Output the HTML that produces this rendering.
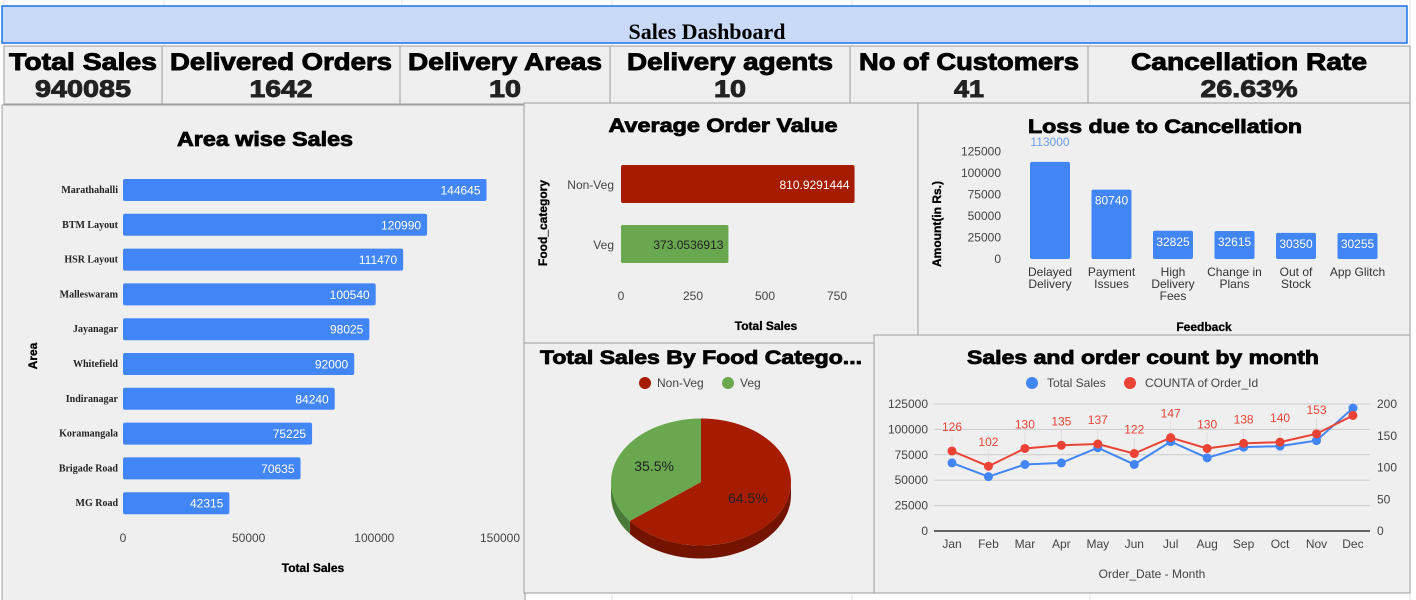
<!DOCTYPE html>
<html><head><meta charset="utf-8"><style>
html,body{margin:0;padding:0;background:#fff;width:1416px;height:600px;overflow:hidden}
svg{display:block;font-family:"Liberation Sans",Arial,sans-serif}
</style></head><body>
<svg id="s" width="1416" height="600" viewBox="0 0 1416 600">
<g id="grid"></g>
<rect x="2" y="6" width="1405" height="37" fill="#c9daf8" stroke="#1a73e8" stroke-width="1.5"/>
<text x="707" y="39" text-anchor="middle" font-family="Liberation Serif,serif" font-weight="bold" font-size="22">Sales Dashboard</text>
<g id="kpis"></g>
<g id="panels"></g>
</svg>
<script>
const NS='http://www.w3.org/2000/svg';
const svg=document.getElementById('s');
function el(tag,attrs,parent,txt){const e=document.createElementNS(NS,tag);for(const k in attrs)e.setAttribute(k,attrs[k]);if(txt!==undefined)e.textContent=txt;(parent||svg).appendChild(e);return e;}

// KPI data
const kpiLabels=['Total Sales','Delivered Orders','Delivery Areas','Delivery agents','No of Customers','Cancellation Rate'];
const kpiValues=['940085','1642','10','10','41','26.63%'];
const kpiLabelW=[148,222,194,206,220,236];
const kpiValueW=[96,63,32,32,30,97];
// area sales
const areaNames=['Marathahalli','BTM Layout','HSR Layout','Malleswaram','Jayanagar','Whitefield','Indiranagar','Koramangala','Brigade Road','MG Road'];
const areaSales=[144645,120990,111470,100540,98025,92000,84240,75225,70635,42315];
const areaTicks=[0,50000,100000,150000];
// AOV
const aovCats=['Non-Veg','Veg'];
const aovValues=[810.9291444,373.0536913];
const aovTicks=[0,250,500,750];
// Loss
const lossCats=[['Delayed','Delivery'],['Payment','Issues'],['High','Delivery','Fees'],['Change in','Plans'],['Out of','Stock'],['App Glitch']];
const lossValues=[113000,80740,32825,32615,30350,30255];
const lossTicks=[0,25000,50000,75000,100000,125000];
// Pie
const pieCats=['Non-Veg','Veg'];
const pieValues=[64.5,35.5];
// Monthly
const months=['Jan','Feb','Mar','Apr','May','Jun','Jul','Aug','Sep','Oct','Nov','Dec'];
const monthSales=[67000,53500,65500,67000,82000,65500,88000,72000,82500,83500,89000,121000];
const monthCounts=[126,102,130,135,137,122,147,130,138,140,153,182];
const leftTicks=[0,25000,50000,75000,100000,125000];
const rightTicks=[0,50,100,150,200];

const grid=document.getElementById('grid');
[4,164,402,612,852,1090,1410].forEach(x=>{const l=el('line',{x1:x,y1:0,x2:x,y2:600,stroke:'#e2e2e2'},grid);});

const kx=[4,162,400,610,850,1088,1410];
const kg=document.getElementById('kpis');
kpiLabels.forEach((lab,i)=>{
  const last=i===5;
  const r=el('rect',{x:kx[i],y:46,width:kx[i+1]-kx[i],height:last?61:58,fill:'#efefef',stroke:'#9e9e9e'},kg);
  
  const cx=(kx[i]+kx[i+1])/2;
  const t=el('text',{x:cx,y:70,'text-anchor':'middle','font-weight':'bold','font-size':24,fill:'#000',stroke:'#000','stroke-width':0.9,textLength:kpiLabelW[i],lengthAdjust:'spacingAndGlyphs'},kg,lab);
  
  const v=el('text',{x:cx,y:97,'text-anchor':'middle','font-weight':'bold','font-size':24,fill:'#222',stroke:'#222','stroke-width':0.9,textLength:kpiValueW[i],lengthAdjust:'spacingAndGlyphs'},kg,kpiValues[i]);
  
});

const P=document.getElementById('panels');
function panel(x,y,w,h,name){const g=el('g',{},P);
 const r=el('rect',{x:x,y:y,width:w,height:h,fill:'#efefef',stroke:'#9e9e9e'},g);return g;}
function txt(g,x,y,s,attrs,name){const a=Object.assign({x:x,y:y,'font-size':12,fill:'#444'},attrs||{});const t=el('text',a,g,s);return t;}
function title(g,x,y,s,w,fs){return txt(g,x,y,s,{'text-anchor':'middle','font-weight':'bold','font-size':fs,fill:'#000',stroke:'#000','stroke-width':0.8,textLength:w,lengthAdjust:'spacingAndGlyphs'},'chart-title');}

// Area wise sales
{
 const g=panel(2,105,523,500,'area-sales-chart');
 title(g,265,146,'Area wise Sales',176,20);
 const x0=123,x1=500,max=150000;const sx=v=>x0+(x1-x0)*v/max;
 const y0=179,step=34.8,bh=22;
 areaTicks.forEach(t=>txt(g,sx(t),542,String(t),{'text-anchor':'middle'},'x-tick'));
 areaNames.forEach((n,i)=>{
  const y=y0+i*step;
  const b=el('rect',{x:x0,y:y,width:sx(areaSales[i])-x0,height:bh,rx:2,fill:'#4285f4'},g);
  txt(g,sx(areaSales[i])-6,y+15.5,String(areaSales[i]),{'text-anchor':'end',fill:'#fff','font-size':12},'bar-value');
  txt(g,118,y+14,n,{'text-anchor':'end','font-family':'Liberation Serif,serif','font-weight':'bold','font-size':10,fill:'#222'},'y-tick');
 });
 txt(g,313,572,'Total Sales',{'text-anchor':'middle','font-weight':'bold','font-size':12,fill:'#000',stroke:'#000','stroke-width':0.3},'x-axis-title');
 txt(g,0,0,'Area',{'text-anchor':'middle','font-weight':'bold','font-size':12,fill:'#000',stroke:'#000','stroke-width':0.3,transform:'translate(37,356) rotate(-90)'},'y-axis-title');
}
// AOV
{
 const g=panel(524,103,394,240,'average-order-value-chart');
 title(g,723,132,'Average Order Value',229,19);
 const x0=621,x1=837,max=750;const sx=v=>x0+(x1-x0)*v/max;
 const cols=['#a61c00','#6aa84f'];const ys=[165,225];
 aovCats.forEach((c,i)=>{
  const b=el('rect',{x:x0,y:ys[i],width:sx(aovValues[i])-x0,height:38,rx:2,fill:cols[i]},g);
  txt(g,sx(aovValues[i])-5,ys[i]+24,aovValues[i].toFixed(7),{'text-anchor':'end',fill:i==0?'#fff':'#222','font-size':12},'bar-value');
  txt(g,614,ys[i]+24,c,{'text-anchor':'end'},'y-tick');
 });
 aovTicks.forEach(t=>txt(g,sx(t),300,String(t),{'text-anchor':'middle'},'x-tick'));
 txt(g,766,330,'Total Sales',{'text-anchor':'middle','font-weight':'bold','font-size':12,fill:'#000',stroke:'#000','stroke-width':0.3},'x-axis-title');
 txt(g,0,0,'Food_category',{'text-anchor':'middle','font-weight':'bold','font-size':12,fill:'#000',stroke:'#000','stroke-width':0.3,transform:'translate(547,223) rotate(-90)'},'y-axis-title');
}
// Loss
{
 const g=panel(918,103,492,232,'loss-cancellation-chart');
 title(g,1165,133,'Loss due to Cancellation',274,19);
 const yb=259,yt=151.5,max=125000;const sy=v=>yb-(yb-yt)*v/max;
 lossTicks.forEach(t=>txt(g,1001,sy(t)+4,String(t),{'text-anchor':'end'},'y-tick'));
 const cx0=1050,step=61.5,bw=40;
 lossCats.forEach((c,i)=>{
  const cx=cx0+i*step;
  const b=el('rect',{x:cx-bw/2,y:sy(lossValues[i]),width:bw,height:yb-sy(lossValues[i]),rx:2,fill:'#4285f4'},g);
  if(i==0) txt(g,cx,146,String(lossValues[i]),{'text-anchor':'middle',fill:'#6d9eeb'},'bar-value');
  else txt(g,cx,sy(lossValues[i])+15,String(lossValues[i]),{'text-anchor':'middle',fill:'#fff'},'bar-value');
  c.forEach((l,j)=>txt(g,cx,276+j*12,l,{'text-anchor':'middle','font-size':12,fill:'#333'},'x-tick'));
 });
 txt(g,1204,331,'Feedback',{'text-anchor':'middle','font-weight':'bold','font-size':12,fill:'#000',stroke:'#000','stroke-width':0.3},'x-axis-title');
 txt(g,0,0,'Amount(in Rs.)',{'text-anchor':'middle','font-weight':'bold','font-size':12,fill:'#000',stroke:'#000','stroke-width':0.3,transform:'translate(941,224) rotate(-90)'},'y-axis-title');
}
// Pie
{
 const g=panel(524,343,350,250,'food-category-pie-chart');
 title(g,701,364,'Total Sales By Food Catego...',322,19);
 const lc=['#a61c00','#6aa84f'],dc=['#741300','#4a7a37'];
 [[645,pieCats[0]],[728,pieCats[1]]].forEach(([x,n],i)=>{const c=el('circle',{cx:x,cy:383,r:6,fill:lc[i]},g);txt(g,x+12,387,n,{},'legend-entry');});
 const cx=701,cy=482,rx=90,ry=63.5,d=13;
 const tot=pieValues.reduce((a,b)=>a+b,0);
 const pt=(a,dy)=>[cx+rx*Math.sin(a),cy-ry*Math.cos(a)+(dy||0)];
 let a0=0;const angs=pieValues.map(v=>{const s=a0;a0+=v/tot*2*Math.PI;return [s,a0];});
 angs.forEach(([s,e],i)=>{
  const lo=Math.max(s,Math.PI/2),hi=Math.min(e,3*Math.PI/2);
  if(hi>lo){const p1=pt(lo),p2=pt(hi),p3=pt(hi,d),p4=pt(lo,d);
   const w=el('path',{d:`M${p1} A${rx},${ry} 0 0 1 ${p2} L${p3} A${rx},${ry} 0 0 0 ${p4} Z`,fill:dc[i]},g);}
 });
 angs.forEach(([s,e],i)=>{
  const p1=pt(s),p2=pt(e);const large=(e-s)>Math.PI?1:0;
  const p=el('path',{d:`M${cx},${cy} L${p1} A${rx},${ry} 0 ${large} 1 ${p2} Z`,fill:lc[i]},g);
  const m=(s+e)/2;const lp=[cx+rx*0.58*Math.sin(m),cy-ry*0.58*Math.cos(m)];
  txt(g,lp[0],lp[1]+5,pieValues[i].toFixed(1)+'%',{'text-anchor':'middle','font-size':14,fill:'#222'},'slice-label');
 });
}
// Monthly
{
 const g=panel(874,335,536,258,'monthly-sales-chart');
 title(g,1143,364,'Sales and order count by month',352,19);
 const c1='#4285f4',c2='#ea4335';
 [[1032,'Total Sales',c1],[1130,'COUNTA of Order_Id',c2]].forEach(([x,n,c])=>{const m=el('circle',{cx:x,cy:383,r:6,fill:c},g);txt(g,x+15,387,n,{},'legend-entry');});
 const yb=531,yt=404;const sl=v=>yb-(yb-yt)*v/125000,sr=v=>yb-(yb-yt)*v/200;
 const x0=952,step=36.45;const sx=i=>x0+i*step;
 leftTicks.forEach(t=>{const l=el('line',{x1:934,x2:1370,y1:sl(t),y2:sl(t),stroke:t?'#cccccc':'#333',"stroke-width":t?1:1.5},g);txt(g,928,sl(t)+4,String(t),{'text-anchor':'end'},'left-y-tick');});
 rightTicks.forEach(t=>txt(g,1377,sr(t)+4,String(t),{},'right-y-tick'));
 months.forEach((m,i)=>{txt(g,sx(i),548,m,{'text-anchor':'middle'},'x-tick');
  const l=el('line',{x1:sx(i),x2:sx(i),y1:sr(monthCounts[i])-16,y2:sr(monthCounts[i]),stroke:'#ddd'},g);});
 const line=(vals,f,c,name)=>{const p=el('polyline',{points:vals.map((v,i)=>sx(i)+','+f(v)).join(' '),fill:'none',stroke:c,'stroke-width':2},g);
  vals.forEach((v,i)=>{const d=el('circle',{cx:sx(i),cy:f(v),r:4.5,fill:c},g);});};
 line(monthSales,sl,c1,'sales');
 line(monthCounts,sr,c2,'count');
 monthCounts.forEach((v,i)=>{if(i<11)txt(g,sx(i),sr(v)-20,String(v),{'text-anchor':'middle',fill:'#ea4335','font-size':12},'count-label');});
 txt(g,1152,578,'Order_Date - Month',{'text-anchor':'middle'},'x-axis-title');
}
</script>
</body></html>
